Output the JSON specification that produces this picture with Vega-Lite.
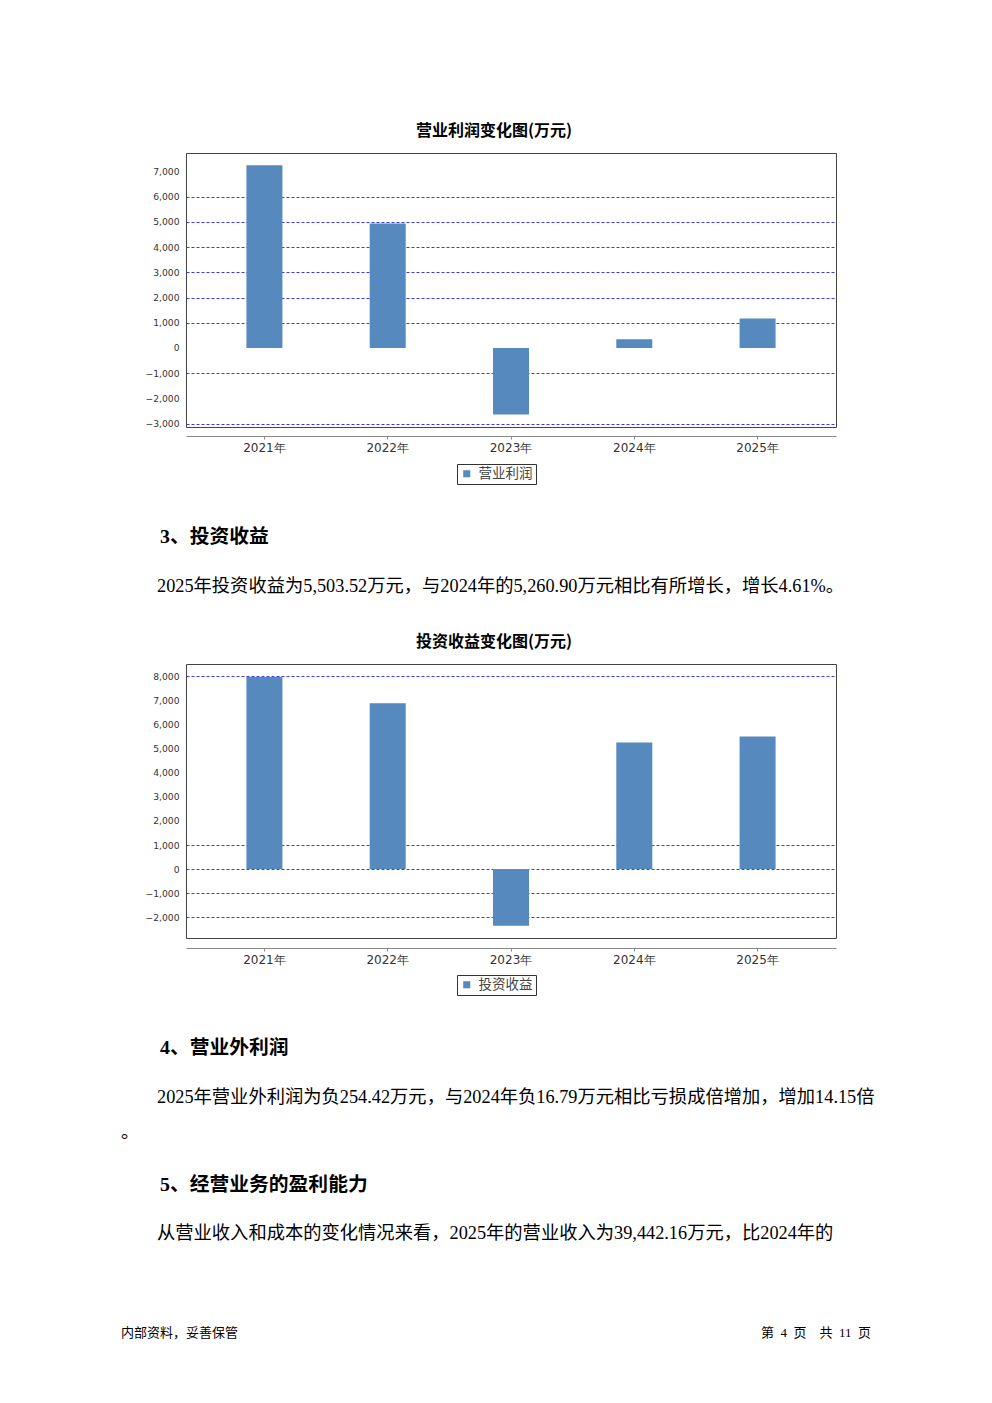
{
  "$schema": "https://vega.github.io/schema/vega-lite/v6.json",
  "background": "white",
  "padding": {"left": 121, "top": 122, "right": 10, "bottom": 0},
  "bounds": "flush",
  "spacing": 0,
  "resolve": {"scale": {"color": "independent"}, "legend": {"color": "independent"}},
  "config": {
    "view": {"stroke": null},
    "font": "Noto Sans CJK SC",
    "title": {"font": "Noto Sans CJK SC", "fontSize": 16, "fontWeight": "bold", "color": "#000", "baseline": "alphabetic", "offset": 14, "anchor": "middle", "dx": -17},
    "axisX": {"labelFont": "DejaVu Sans", "labelFontSize": 12, "labelColor": "#333", "domainColor": "#888", "tickColor": "#888", "tickSize": 3, "labelPadding": 3, "grid": false, "labelAngle": 0, "title": null},
    "axisY": {"labelFont": "DejaVu Sans", "labelFontSize": 9.2, "labelColor": "#333", "ticks": false, "tickSize": 0, "domain": false, "labelPadding": 7, "grid": true, "gridColor": "#3a3af0", "gridDash": [3, 2], "gridWidth": 1, "title": null},
    "legend": {"strokeColor": "#333", "padding": 3, "symbolType": "square", "symbolSize": 50, "symbolStrokeWidth": 0, "labelFont": "Noto Sans CJK SC", "labelFontSize": 13.5, "labelColor": "#444", "labelOffset": 5}
  },
  "vconcat": [
    {
      "width": 650,
      "height": 274,
      "view": {"stroke": "#444"},
      "title": "营业利润变化图(万元)",
      "data": {"values": [
        {"year": "2021年", "value": 7250, "item": "营业利润"},
        {"year": "2022年", "value": 4940, "item": "营业利润"},
        {"year": "2023年", "value": -2640, "item": "营业利润"},
        {"year": "2024年", "value": 345, "item": "营业利润"},
        {"year": "2025年", "value": 1170, "item": "营业利润"}
      ]},
      "mark": {"type": "bar"},
      "encoding": {
        "x": {"field": "year", "type": "nominal", "sort": null, "scale": {"paddingInner": 0.708, "paddingOuter": 0.49}, "axis": {"offset": 9}},
        "y": {"field": "value", "type": "quantitative", "scale": {"domain": [-3135, 7738], "nice": false, "zero": false},
          "axis": {"values": [-3000, -2000, -1000, 0, 1000, 2000, 3000, 4000, 5000, 6000, 7000], "format": ",d",
            "gridOpacity": {"condition": {"test": "datum.value == 7000 || datum.value == 0 || datum.value == -2000", "value": 0}, "value": 1}}},
        "color": {"field": "item", "type": "nominal", "scale": {"range": ["#5689bd"]}, "legend": {"title": null, "orient": "none", "legendX": 271, "legendY": 311}}
      }
    },
    {
      "width": 650,
      "height": 237,
      "layer": [
        {
          "data": {"values": [{"line": 1, "text": "3、投资收益"}]},
          "mark": {"type": "text", "align": "left", "baseline": "middle", "x": 0, "dx": -26, "fontSize": 19.8, "fontWeight": "bold", "font": "Liberation Serif, Noto Sans CJK SC", "color": "#000"},
          "encoding": {"y": {"field": "line", "type": "quantitative", "scale": {"domain": [-1.2, 3.54], "reverse": true, "nice": false, "zero": false}, "axis": null}, "text": {"field": "text"}}
        },
        {
          "data": {"values": [{"line": 2, "text": "2025年投资收益为5,503.52万元，与2024年的5,260.90万元相比有所增长，增长4.61%。"}]},
          "mark": {"type": "text", "align": "left", "baseline": "middle", "x": 0, "dx": -29, "fontSize": 18.3, "font": "Liberation Serif, Noto Sans CJK SC", "color": "#000"},
          "encoding": {"y": {"field": "line", "type": "quantitative", "scale": {"domain": [-1.2, 3.54], "reverse": true, "nice": false, "zero": false}, "axis": null}, "text": {"field": "text"}}
        }
      ]
    },
    {
      "width": 650,
      "height": 274,
      "view": {"stroke": "#444"},
      "title": "投资收益变化图(万元)",
      "data": {"values": [
        {"year": "2021年", "value": 7980, "item": "投资收益"},
        {"year": "2022年", "value": 6890, "item": "投资收益"},
        {"year": "2023年", "value": -2350, "item": "投资收益"},
        {"year": "2024年", "value": 5260.90, "item": "投资收益"},
        {"year": "2025年", "value": 5503.52, "item": "投资收益"}
      ]},
      "mark": {"type": "bar"},
      "encoding": {
        "x": {"field": "year", "type": "nominal", "sort": null, "scale": {"paddingInner": 0.708, "paddingOuter": 0.49}, "axis": {"offset": 10}},
        "y": {"field": "value", "type": "quantitative", "scale": {"domain": [-2863, 8519], "nice": false, "zero": false},
          "axis": {"values": [-2000, -1000, 0, 1000, 2000, 3000, 4000, 5000, 6000, 7000, 8000], "format": ",d",
            "gridOpacity": {"condition": {"test": "datum.value >= 2000 && datum.value <= 7000", "value": 0}, "value": 1}}},
        "color": {"field": "item", "type": "nominal", "scale": {"range": ["#5689bd"]}, "legend": {"title": null, "orient": "none", "legendX": 271, "legendY": 311}}
      }
    },
    {
      "width": 650,
      "height": 180,
      "layer": [
        {
          "data": {"values": [{"line": 1, "text": "4、营业外利润"}]},
          "mark": {"type": "text", "align": "left", "baseline": "middle", "x": 0, "dx": -26, "fontSize": 19.8, "fontWeight": "bold", "font": "Liberation Serif, Noto Sans CJK SC", "color": "#000"},
          "encoding": {"y": {"field": "line", "type": "quantitative", "scale": {"domain": [-1.2, 2.4], "reverse": true, "nice": false, "zero": false}, "axis": null}, "text": {"field": "text"}}
        },
        {
          "data": {"values": [{"line": 2, "text": "2025年营业外利润为负254.42万元，与2024年负16.79万元相比亏损成倍增加，增加14.15倍"}]},
          "mark": {"type": "text", "align": "left", "baseline": "middle", "x": 0, "dx": -29, "fontSize": 18.3, "font": "Liberation Serif, Noto Sans CJK SC", "color": "#000"},
          "encoding": {"y": {"field": "line", "type": "quantitative", "scale": {"domain": [-1.2, 2.4], "reverse": true, "nice": false, "zero": false}, "axis": null}, "text": {"field": "text"}}
        }
      ]
    },
    {
      "width": 650,
      "height": 42,
      "data": {"values": [{"line": 1, "text": "。"}]},
      "mark": {"type": "text", "align": "left", "baseline": "middle", "x": 0, "dx": -65, "fontSize": 18.3, "font": "Liberation Serif, Noto Sans CJK SC", "color": "#000"},
      "encoding": {"y": {"field": "line", "type": "quantitative", "scale": {"domain": [0, 2.8], "reverse": true, "nice": false, "zero": false}, "axis": null}, "text": {"field": "text"}}
    },
    {
      "width": 650,
      "height": 130,
      "layer": [
        {
          "data": {"values": [{"line": 1, "text": "5、经营业务的盈利能力"}]},
          "mark": {"type": "text", "align": "left", "baseline": "middle", "x": 0, "dx": -26, "fontSize": 19.8, "fontWeight": "bold", "font": "Liberation Serif, Noto Sans CJK SC", "color": "#000"},
          "encoding": {"y": {"field": "line", "type": "quantitative", "scale": {"domain": [0.4898, 3.1429], "reverse": true, "nice": false, "zero": false}, "axis": null}, "text": {"field": "text"}}
        },
        {
          "data": {"values": [{"line": 2, "text": "从营业收入和成本的变化情况来看，2025年的营业收入为39,442.16万元，比2024年的"}]},
          "mark": {"type": "text", "align": "left", "baseline": "middle", "x": 0, "dx": -29, "fontSize": 18.3, "font": "Liberation Serif, Noto Sans CJK SC", "color": "#000"},
          "encoding": {"y": {"field": "line", "type": "quantitative", "scale": {"domain": [0.4898, 3.1429], "reverse": true, "nice": false, "zero": false}, "axis": null}, "text": {"field": "text"}}
        }
      ]
    },
    {
      "width": 650,
      "height": 86,
      "layer": [
        {
          "data": {"values": [{"line": 1, "text": "内部资料，妥善保管"}]},
          "mark": {"type": "text", "align": "left", "baseline": "middle", "x": 0, "dx": -65, "fontSize": 13, "font": "Liberation Serif, Noto Sans CJK SC", "color": "#000"},
          "encoding": {"y": {"field": "line", "type": "quantitative", "scale": {"domain": [0, 2], "reverse": true, "nice": false, "zero": false}, "axis": null}, "text": {"field": "text"}}
        },
        {
          "data": {"values": [{"line": 1, "text": "第\u00a0\u00a04\u00a0\u00a0页\u00a0\u00a0\u00a0\u00a0共\u00a0\u00a011\u00a0\u00a0页"}]},
          "mark": {"type": "text", "align": "right", "baseline": "middle", "x": 0, "dx": 685, "fontSize": 13, "font": "Liberation Serif, Noto Sans CJK SC", "color": "#000"},
          "encoding": {"y": {"field": "line", "type": "quantitative", "scale": {"domain": [0, 2], "reverse": true, "nice": false, "zero": false}, "axis": null}, "text": {"field": "text"}}
        }
      ]
    }
  ]
}
